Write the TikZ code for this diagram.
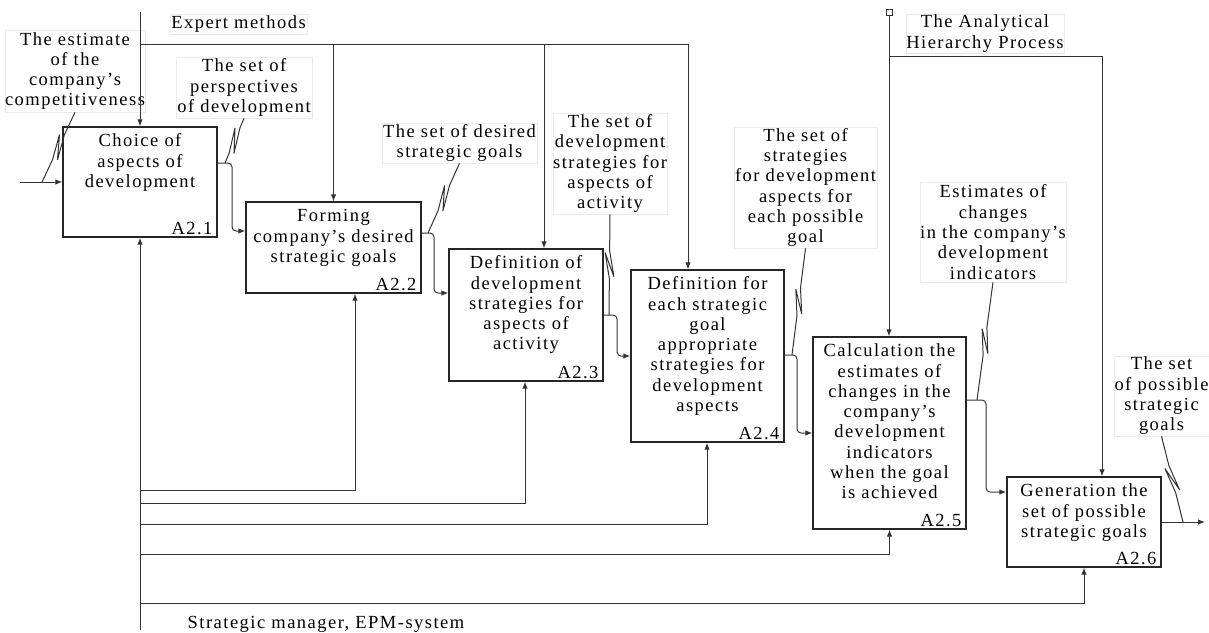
\documentclass[tikz,border=0pt]{standalone}
\usepackage{fontspec}
\setmainfont{Liberation Serif}[LetterSpace=8]
\usetikzlibrary{arrows.meta,calc}
\newcommand\fsz{\fontsize{18.5}{20.3}\selectfont}
\newcommand\squig[2]{\draw[ln] (#1) -- ($(#1)!0.5!(#2)!14pt!(#1)$) -- ($(#1)!0.5!(#2)!12pt!(#2)!4.5pt!90:(#2)$) -- ($(#1)!0.5!(#2)!12pt!(#1)!4.5pt!90:(#1)$) -- ($(#1)!0.5!(#2)!14pt!(#2)$) -- (#2);}
\begin{document}
\begin{tikzpicture}[x=1pt,y=-1pt,
  ln/.style={draw=black!80, line width=1pt},
  arr/.style={ln, -{Latex[length=7pt,width=5.5pt]}},
  proc/.style={draw=black!85, line width=1.3pt, fill=white, inner sep=0pt},
  boxtxt/.style={font=\fsz, align=center, inner sep=0pt, anchor=north},
  idx/.style={font=\fsz, inner sep=0pt, anchor=south east},
  note/.style={draw=black!8, line width=0.6pt, font=\fsz, align=center, inner sep=0pt},
  ]
\useasboundingbox (0,0) rectangle (1209,632);

% process boxes
\node[proc, minimum width=154pt, minimum height=110pt] (a1) at (140,182) {};
\node[proc, minimum width=175pt, minimum height=91pt] (a2) at (333.5,247.5) {};
\node[proc, minimum width=154pt, minimum height=132pt] (a3) at (526,315) {};
\node[proc, minimum width=153pt, minimum height=172pt] (a4) at (707.5,356) {};
\node[proc, minimum width=153pt, minimum height=192pt] (a5) at (889.5,433) {};
\node[proc, minimum width=154pt, minimum height=90pt] (a6) at (1084,522) {};

\node[boxtxt] (t1) at ($(a1.north)+(0,6)$) {\strut Choice of\\aspects of\\development};
\node[boxtxt] (t2) at ($(a2.north)+(0,6)$) {\strut Forming\\company's desired\\strategic goals};
\node[boxtxt] (t3) at ($(a3.north)+(0,6)$) {\strut Definition of\\development\\strategies for\\aspects of\\activity};
\node[boxtxt] (t4) at ($(a4.north)+(0,6)$) {\strut Definition for\\each strategic\\goal\\appropriate\\strategies for\\development\\aspects};
\node[boxtxt] (t5) at ($(a5.north)+(0,6)$) {\strut Calculation the\\estimates of\\changes in the\\company's\\development\\indicators\\when the goal\\is achieved};
\node[boxtxt] (t6) at ($(a6.north)+(0,6)$) {\strut Generation the\\set of possible\\strategic goals};

\node[idx] (n1) at ($(a1.south east)+(-5,-3)$) {A2.1};
\node[idx] (n2) at ($(a2.south east)+(-5,-3)$) {A2.2};
\node[idx] (n3) at ($(a3.south east)+(-5,-3)$) {A2.3};
\node[idx] (n4) at ($(a4.south east)+(-5,-3)$) {A2.4};
\node[idx] (n5) at ($(a5.south east)+(-5,-3)$) {A2.5};
\node[idx] (n6) at ($(a6.south east)+(-5,-3)$) {A2.6};

% labels
\node[note, minimum width=136pt, minimum height=82pt] (e1) at (75,71) {The estimate\\of the\\company's\\competitiveness};
\node[note, minimum width=136pt, minimum height=61pt] (e2) at (244,87.5) {The set of\\perspectives\\of development};
\node[note, minimum width=155pt, minimum height=40pt] (e3) at (459.5,143) {The set of desired\\strategic goals};
\node[note, minimum width=114pt, minimum height=101pt] (e4) at (610,163.5) {The set of\\development\\strategies for\\aspects of\\activity};
\node[note, minimum width=143pt, minimum height=121pt] (e5) at (805.5,187.5) {The set of\\strategies\\for development\\aspects for\\each possible\\goal};
\node[note, minimum width=146pt, minimum height=100pt] (e6) at (993,232) {Estimates of\\changes\\in the company's\\development\\indicators};
\node[note, minimum width=95pt, minimum height=80pt] (e7) at (1161.5,396) {The set\\of possible\\strategic\\goals};
\node[note, minimum width=137pt, minimum height=20pt] (em) at (238.5,24) {Expert methods};
\node[note, minimum width=158pt, minimum height=39pt] (ah) at (985,33.5) {The Analytical\\Hierarchy Process};
\node[font=\fsz, inner sep=0pt, anchor=base] (sm) at (326,628) {Strategic manager, EPM-system};

% coordinates
\coordinate (in) at (20,182);
\coordinate (out) at (1205,522);
\coordinate (ctop) at (140,12);
\coordinate (mbot) at (140,630);
\coordinate (s1) at (42,182);
\coordinate (s2) at (225,163);
\coordinate (s3) at (428,233);
\coordinate (s4) at (609,315);
\coordinate (s5) at (792,355);
\coordinate (s6) at (977,400);
\coordinate (s7) at (1183,522);

% input / output
\draw[arr] (in) -- (a1.west);
\draw[arr] (a6.east) -- (out);

% flows between boxes
\draw[arr, rounded corners=4pt] (a1.east |- 0,163) -- (232,163) |- (a2.west |- 0,231);
\draw[arr, rounded corners=4pt] (a2.east |- 0,233) -- (434,233) |- (a3.west |- 0,293);
\draw[arr, rounded corners=4pt] (a3.east |- 0,315) -- (617,315) |- (a4.west |- 0,356);
\draw[arr, rounded corners=4pt] (a4.east |- 0,355) -- (797,355) |- (a5.west |- 0,433);
\draw[arr, rounded corners=4pt] (a5.east |- 0,400) -- (986,400) |- (a6.west |- 0,492);

% squiggles
\squig{e1.south}{s1}
\squig{e2.south}{s2}
\squig{e3.south}{s3}
\squig{e4.south}{s4}
\squig{e5.south}{s5}
\squig{e6.south}{s6}
\squig{e7.south}{s7}

% controls: expert methods
\draw[arr] (ctop) -- (a1.north);
\draw[arr] (a1.north |- 0,44) -| (a4.north -| 688,0);
\draw[arr] (333.5,44) -- (a2.north);
\draw[arr] (544,44) -- (a3.north -| 544,0);

% controls: AHP
\node[draw=black!80, line width=0.8pt, fill=white, minimum size=6pt, inner sep=0pt] (sq) at (889,12) {};
\draw[arr] (sq.south) -- (a5.north -| sq.south);
\draw[arr] (889,56) -| (a6.north -| 1102,0);

% mechanisms
\draw[arr] (mbot) -- (a1.south);
\draw[arr] (140,490) -| (a2.south -| 355,0);
\draw[arr] (140,503) -| (a3.south -| 525,0);
\draw[arr] (140,524) -| (a4.south -| 707,0);
\draw[arr] (140,554) -| (a5.south);
\draw[arr] (140,603) -| (a6.south);
\end{tikzpicture}
\end{document}
